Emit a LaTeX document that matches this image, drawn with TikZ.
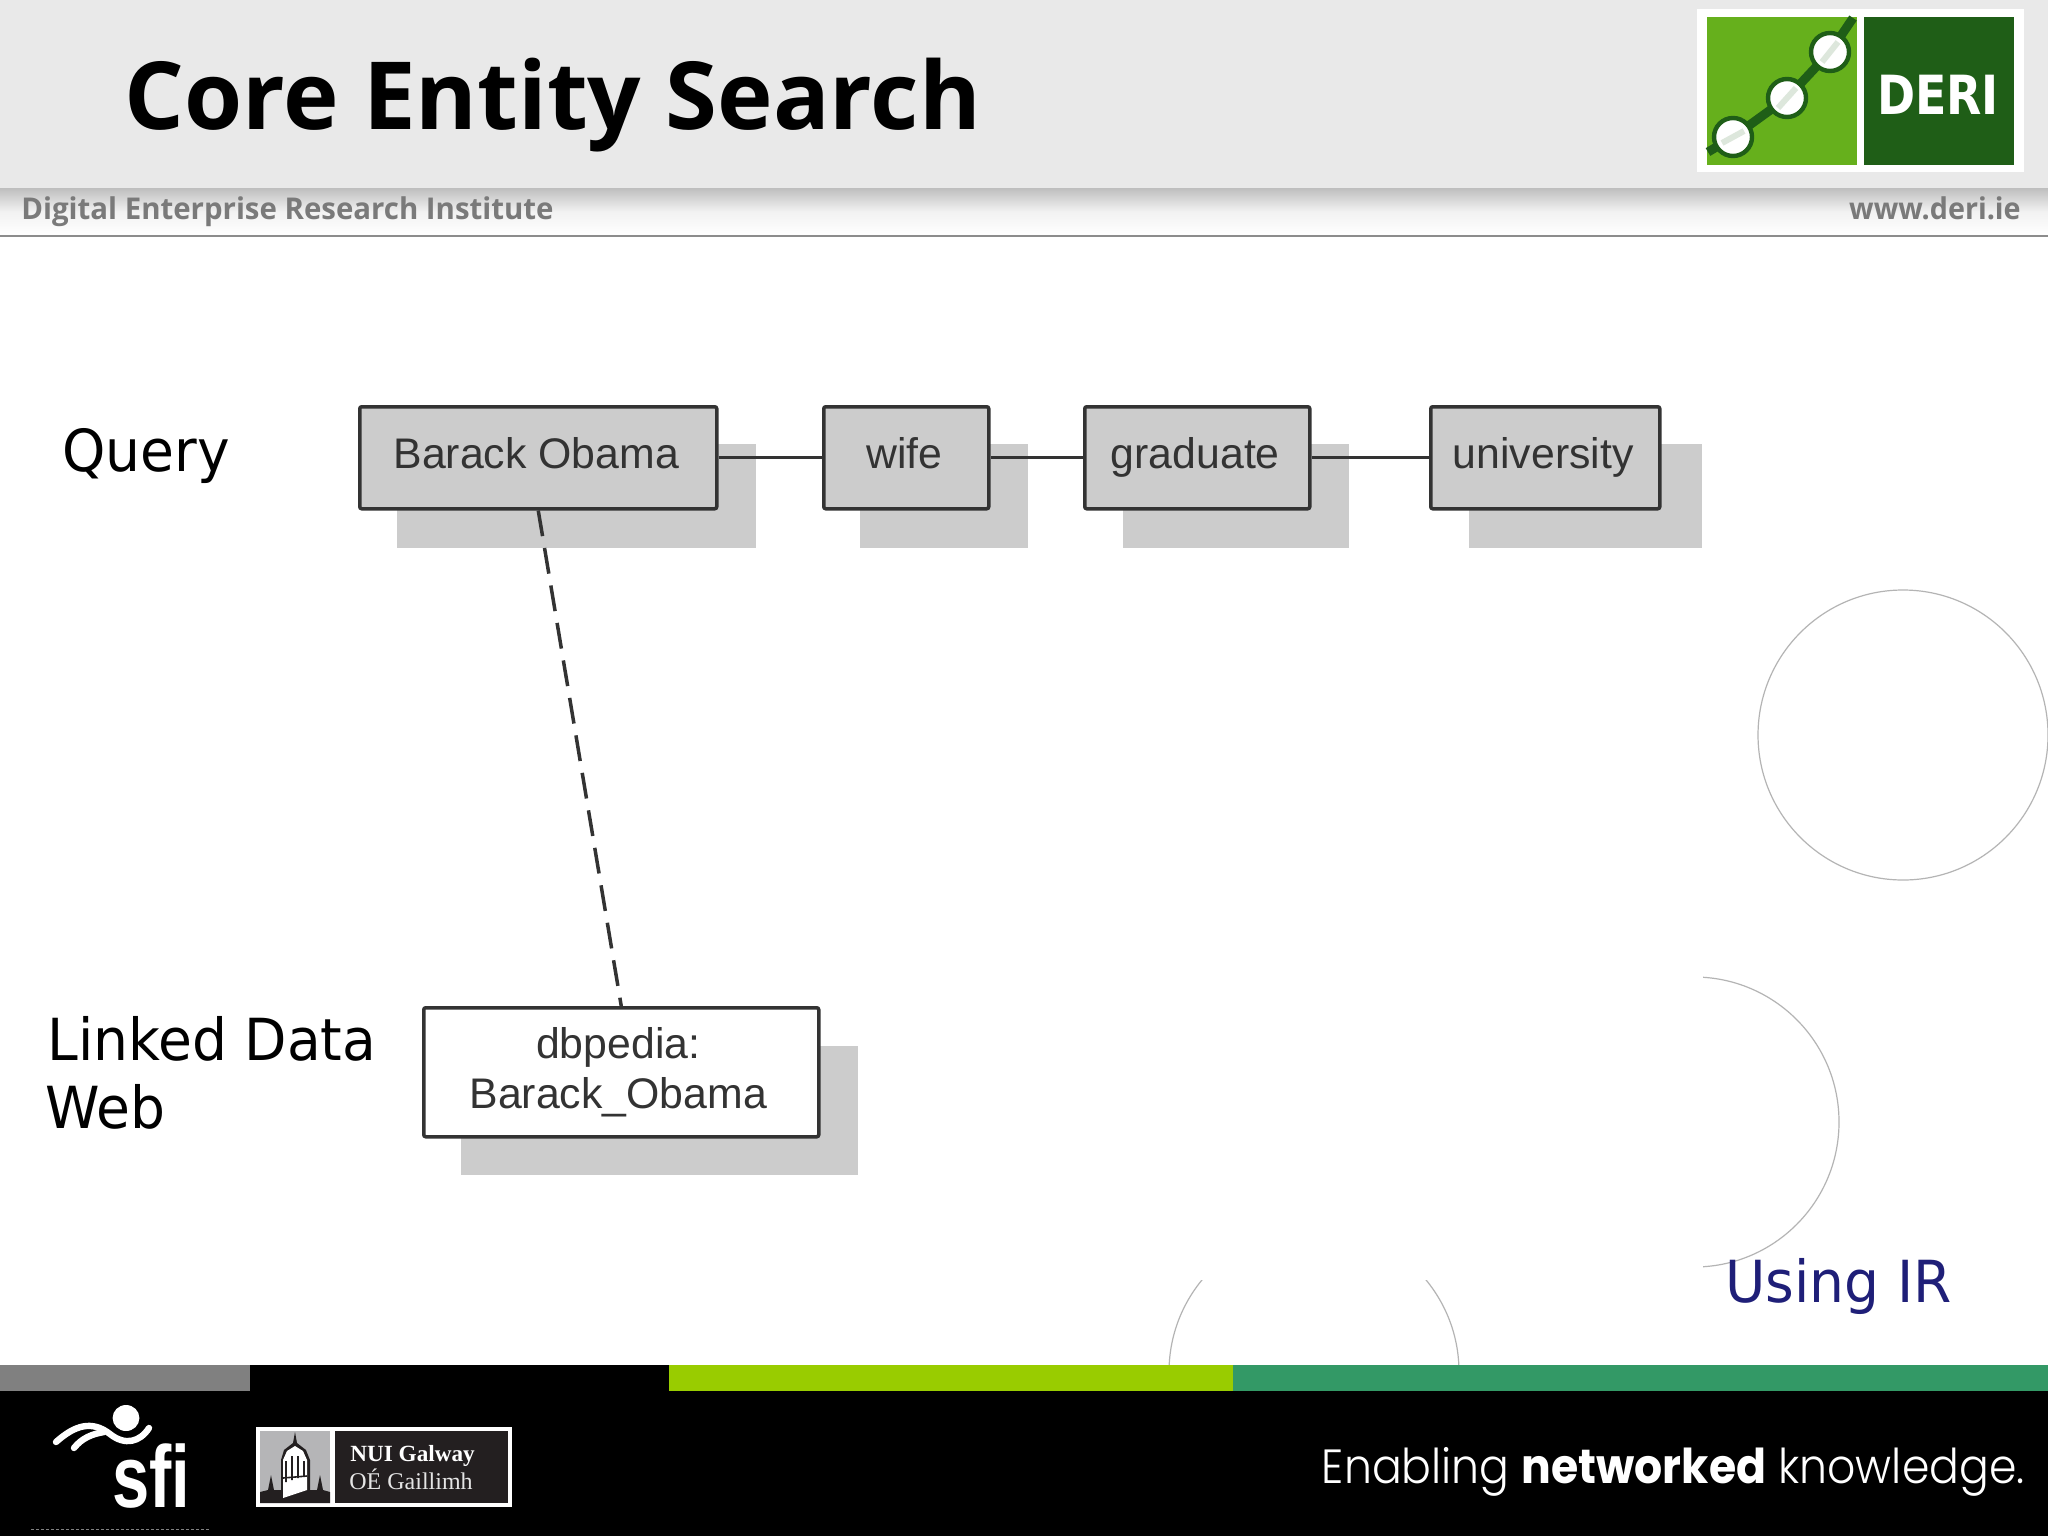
\documentclass[tikz,border=0pt]{standalone}
\usepackage{fontspec}
\setmainfont{DejaVu Sans}
\newfontfamily\arialf{Liberation Sans}
\newfontfamily\serifl{Liberation Serif}
\newfontfamily\opens{Open Sans}
\newfontfamily\futl[UprightFont={* Light},BoldFont={* Bold}]{Poppins}
\definecolor{hdr}{HTML}{E9E9E9}
\definecolor{bandtop}{HTML}{BEBEBE}
\definecolor{bandline}{HTML}{8C8C8C}
\definecolor{hdrtxt}{HTML}{7A7A7A}
\definecolor{boxgray}{HTML}{CCCCCC}
\definecolor{edgec}{HTML}{333333}
\definecolor{ringc}{HTML}{B4B4B4}
\definecolor{irblue}{HTML}{1F1F78}
\definecolor{gbar}{HTML}{808080}
\definecolor{lime}{HTML}{99CC00}
\definecolor{teal}{HTML}{339966}
\definecolor{lgreen}{HTML}{66B01C}
\definecolor{dgreen}{HTML}{1F5E17}
\definecolor{nuidark}{HTML}{231F20}
\definecolor{nuigray}{HTML}{B5B5B7}
\tikzset{
  x=0.5pt,y=-0.5pt,
  ebox/.style={draw=edgec,line width=1.75pt,rounded corners=1pt,inner sep=0pt,anchor=north west,font=\arialf\fontsize{21.4}{25}\selectfont,text=edgec,align=center},
  oneline/.style={text height=19pt,text depth=8pt},
  shadowbg/.style={fill=boxgray,draw=none},
  conn/.style={draw=edgec,line width=1.5pt},
  dashconn/.style={draw=edgec,line width=1.75pt,dash pattern=on 13pt off 6pt},
  ring/.style={draw=ringc,line width=0.6pt},
  label/.style={anchor=base west,inner sep=0pt,xscale=0.95,font=\fontsize{29}{34}\selectfont},
  logodot/.style={circle,draw=dgreen,line width=2.2pt,fill=white,minimum size=19pt,inner sep=0pt},
}
\begin{document}
\begin{tikzpicture}
\useasboundingbox (0,0) rectangle (2048,1536);
\fill[white] (0,0) rectangle (2048,1536);
% header
\fill[hdr] (0,0) rectangle (2048,188);
\shade[top color=bandtop,bottom color=white,middle color=hdr!60!white] (0,188) rectangle (2048,235);
\fill[bandline] (0,235) rectangle (2048,237);
\node[anchor=base west,inner sep=0pt,font=\opens\bfseries\fontsize{47}{50}\selectfont] (title) at (124,129) {Core Entity Search};
\node[anchor=base west,inner sep=0pt,text=hdrtxt,font=\opens\bfseries\fontsize{15}{18}\selectfont,xscale=0.98] (inst) at (21,219) {Digital Enterprise Research Institute};
\node[anchor=base east,inner sep=0pt,text=hdrtxt,font=\opens\bfseries\fontsize{15}{18}\selectfont,xscale=0.956] (www) at (2021,219) {www.deri.ie};
% DERI logo
\fill[white] (1697,9) rectangle (2024,172);
\fill[lgreen] (1707,17) rectangle (1857,165);
\fill[dgreen] (1864,17) rectangle (2014,165);
\draw[dgreen,line width=4.5pt] (1708,152) -- (1733,137) -- (1787,98) -- (1830,52) -- (1853,18);
\node[logodot] (d1) at (1733,137) {};
\node[logodot] (d2) at (1787,98) {};
\node[logodot] (d3) at (1830,52) {};
\draw[dgreen!15!white,line width=3pt] (1722,143)--(1744,131);
\draw[dgreen!15!white,line width=3pt] (1778,108)--(1796,88);
\draw[dgreen!15!white,line width=3pt] (1822,62)--(1838,42);
\node[text=white,inner sep=0pt,font=\bfseries\fontsize{27}{30}\selectfont,xscale=0.85] (deri) at (1938,95) {DERI};
% decorative rings
\draw[ring] (1903,735) circle[radius=72.5pt];
\begin{scope}
\clip (1703,960) rectangle (1860,1280);
\draw[ring] (1694,1122) circle[radius=72.5pt];
\end{scope}
\begin{scope}
\clip (1150,1280) rectangle (1480,1365);
\draw[ring] (1314,1372) circle[radius=72.5pt];
\end{scope}
% shadows
\fill[shadowbg] (397,444) rectangle (756,548);
\fill[shadowbg] (860,444) rectangle (1028,548);
\fill[shadowbg] (1123,444) rectangle (1349,548);
\fill[shadowbg] (1469,444) rectangle (1702,548);
\fill[shadowbg] (461,1046) rectangle (858,1175);
% boxes
\node[ebox,oneline,fill=boxgray,minimum width=178.5pt,minimum height=51pt] (obama) at (358,405) {Barack Obama\kern2pt};
\node[ebox,oneline,fill=boxgray,minimum width=82.5pt,minimum height=51pt] (wife) at (822,405) {wife\kern2pt};
\node[ebox,oneline,fill=boxgray,minimum width=112.5pt,minimum height=51pt] (grad) at (1083,405) {graduate\kern2pt};
\node[ebox,oneline,fill=boxgray,minimum width=114.5pt,minimum height=51pt] (univ) at (1429,405) {university\kern2pt};
\node[ebox,fill=white,minimum width=197.5pt,minimum height=64.5pt] (dbp) at (422,1006) {dbpedia:\kern3pt\\Barack\_Obama\kern3pt};
% connectors
\draw[conn] (obama) -- (wife);
\draw[conn] (wife) -- (grad);
\draw[conn] (grad) -- (univ);
\draw[dashconn] (obama.south) -- (dbp.north);
% labels
\node[label] (q) at (62,471) {Query};
\node[label] (ld) at (47,1060) {Linked Data};
\node[label] (web) at (45,1128) {Web};
\node[label,text=irblue] (ir) at (1725,1302) {Using IR};
% footer
\fill[black] (0,1365) rectangle (2048,1536);
\fill[gbar] (0,1365) rectangle (250,1391);
\fill[lime] (669,1365) rectangle (1233,1391);
\fill[teal] (1233,1365) rectangle (2048,1391);
% sfi
\fill[white] (126,1418) ellipse[x radius=6.7pt,y radius=6.5pt];
\draw[white,line width=3.2pt,line cap=round] (56,1442) .. controls (75,1425) and (92,1420) .. (110,1434) .. controls (125,1446) and (140,1442) .. (149,1428);
\draw[white,line width=3.2pt,line cap=round] (74,1448) .. controls (82,1438) and (92,1434) .. (104,1432);
\node[anchor=base west,inner sep=0pt,text=white,font=\arialf\bfseries\fontsize{44}{46}\selectfont,xscale=0.76] (sfi) at (112,1507) {sfi};
\draw[gray,line width=0.5pt,dash pattern=on 1.5pt off 1pt] (31,1529) -- (209,1529);
% NUI
\fill[white] (256,1427) rectangle (512,1507);
\fill[nuigray] (260,1431) rectangle (330,1503);
\fill[nuidark] (335,1431) rectangle (508,1503);
\fill[nuidark] (260,1503) -- (260,1492) -- (268,1490) -- (271,1475) -- (274,1490) -- (281,1490) -- (281,1460) -- (284,1450) -- (293,1443) -- (295,1432) -- (297,1443) -- (306,1450) -- (310,1460) -- (310,1490) -- (317,1490) -- (320,1475) -- (323,1490) -- (330,1492) -- (330,1503) -- cycle;
\fill[white] (283,1498) -- (283,1460) -- (287,1451) -- (295,1446) -- (303,1451) -- (307,1460) -- (307,1490) -- cycle;
\draw[nuidark,line width=0.8pt] (286,1461) -- (286,1482) (292,1456) -- (292,1480) (298,1456) -- (298,1478) (304,1461) -- (304,1476) (283,1478) -- (307,1476);
\node[anchor=base west,inner sep=0pt,text=white,font=\serifl\bfseries\fontsize{11.6}{14}\selectfont] (nui) at (350,1461) {NUI Galway};
\node[anchor=base west,inner sep=0pt,text=white!90!black,font=\serifl\fontsize{12}{14}\selectfont] (oe) at (349,1489) {OÉ Gaillimh};
% slogan
\node[anchor=base east,inner sep=0pt,text=white,font=\futl\fontsize{24}{26}\selectfont,xscale=0.92] (sl) at (2025,1483) {Enabling \textbf{networked} knowledge.};
\end{tikzpicture}
\end{document}
